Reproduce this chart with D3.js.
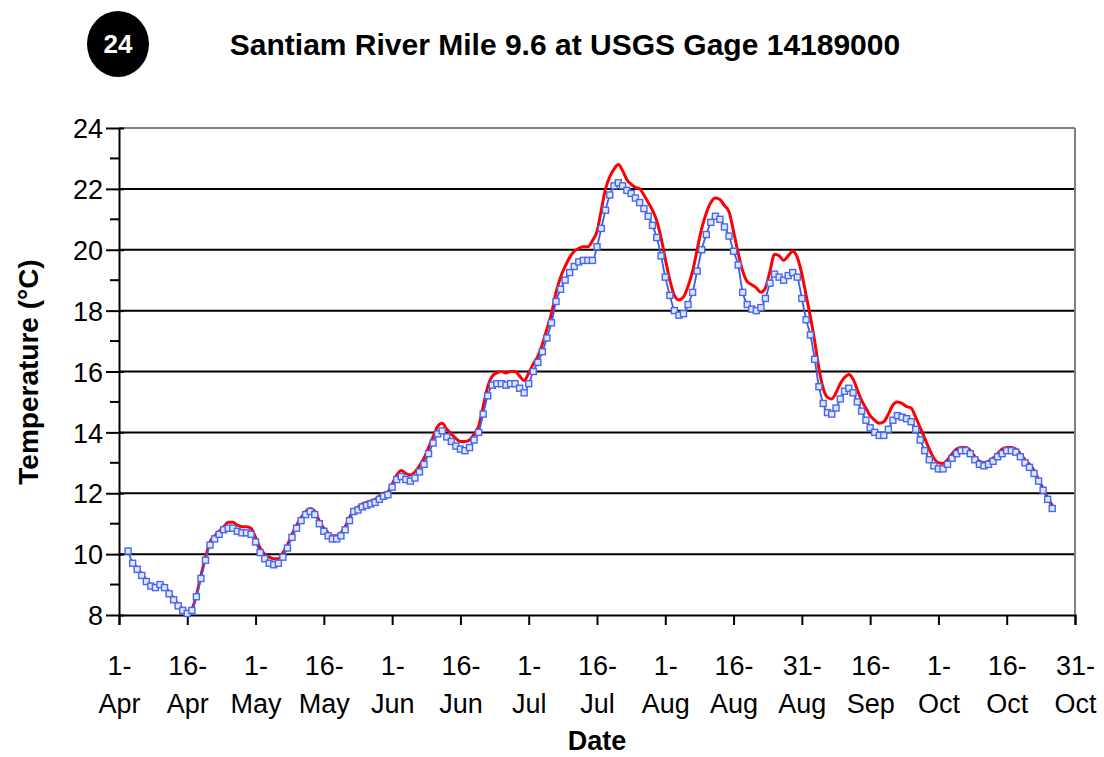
<!DOCTYPE html>
<html>
<head>
<meta charset="utf-8">
<script src="https://cdn.jsdelivr.net/npm/d3@7"></script>
<style>
  html, body { margin: 0; padding: 0; background: #ffffff; }
  svg { display: block; font-family: "Liberation Sans", Arial, sans-serif; }
</style>
</head>
<body>
<svg id="chart" width="1104" height="757"></svg>
<script>
// ---------------- DATA ----------------
const chartNumber = "24";
const chartTitle = "Santiam River Mile 9.6 at USGS Gage 14189000";
const xAxisTitle = "Date";
const yAxisTitle = "Temperature (°C)";

const tickDates = ["2001-04-01","2001-04-16","2001-05-01","2001-05-16","2001-06-01","2001-06-16",
  "2001-07-01","2001-07-16","2001-08-01","2001-08-16","2001-08-31","2001-09-16",
  "2001-10-01","2001-10-16","2001-10-31"];
const tickDayLabels = ["1-","16-","1-","16-","1-","16-","1-","16-","1-","16-","31-","16-","1-","16-","31-"];
const tickMonthLabels = ["Apr","Apr","May","May","Jun","Jun","Jul","Jul","Aug","Aug","Aug","Sep","Oct","Oct","Oct"];
const yTicks = [8, 10, 12, 14, 16, 18, 20, 22, 24];
const yMinorTicks = [9, 11, 13, 15, 17, 19, 21, 23];

// Blue series (daily, starting 3-Apr)
const blueStart = "2001-04-03";
const blueValues = [
  10.1, 9.7, 9.5, 9.3, 9.1, 8.95, 8.9, 9.0, 8.9, 8.7, 8.5, 8.3, 8.15, 8.05, 8.15, 8.6, 9.2, 9.8, 10.3,
  10.5, 10.65, 10.8, 10.85, 10.85, 10.75, 10.7, 10.7, 10.65, 10.4, 10.05, 9.85, 9.7, 9.65, 9.7, 9.9,
  10.2, 10.55, 10.85, 11.1, 11.3, 11.4, 11.3, 11.0, 10.75, 10.6, 10.5, 10.5, 10.6, 10.8, 11.1, 11.4,
  11.45, 11.55, 11.6, 11.65, 11.7, 11.8, 11.9, 11.95, 12.2, 12.45, 12.55, 12.45, 12.4, 12.5, 12.7,
  12.95, 13.3, 13.65, 13.95, 14.05, 13.85, 13.7, 13.55, 13.45, 13.4, 13.5, 13.75, 14.0, 14.6, 15.2,
  15.55, 15.6, 15.6, 15.55, 15.6, 15.6, 15.45, 15.3, 15.6, 16.0, 16.3, 16.65, 17.1, 17.6, 18.3, 18.7,
  19.0, 19.25, 19.45, 19.6, 19.65, 19.65, 19.65, 20.1, 20.7, 21.3, 21.8, 22.1, 22.2, 22.1, 21.95,
  21.85, 21.7, 21.55, 21.35, 21.1, 20.8, 20.4, 19.8, 19.1, 18.5, 18.0, 17.85, 17.9, 18.2, 18.6, 19.3,
  20.0, 20.5, 20.9, 21.1, 21.0, 20.75, 20.45, 19.95, 19.5, 18.6, 18.2, 18.05, 18.0, 18.1, 18.4, 18.9,
  19.2, 19.1, 19.0, 19.15, 19.25, 19.1, 18.4, 17.7, 17.2, 16.4, 15.5, 14.95, 14.65, 14.6, 14.8, 15.1,
  15.35, 15.45, 15.3, 15.0, 14.7, 14.4, 14.15, 14.0, 13.9, 13.9, 14.1, 14.4, 14.55, 14.5, 14.45,
  14.35, 14.1, 13.75, 13.4, 13.1, 12.9, 12.8, 12.8, 12.95, 13.15, 13.3, 13.4, 13.4, 13.3, 13.1, 12.95,
  12.9, 12.95, 13.05, 13.2, 13.3, 13.4, 13.4, 13.35, 13.2, 13.0, 12.85, 12.65, 12.4, 12.1, 11.8, 11.5
];

// Red series (daily, starting 4-Apr)
const redStart = "2001-04-04";
const redValues = [
  9.7, 9.55, 9.35, 9.15, 9.0, 8.95, 9.05, 8.95, 8.75, 8.55, 8.35, 8.2, 8.1, 8.2, 8.65, 9.3, 9.9, 10.4,
  10.6, 10.75, 10.9, 11.05, 11.05, 10.95, 10.9, 10.9, 10.85, 10.55, 10.2, 10.0, 9.9, 9.85, 9.85, 10.05,
  10.3, 10.65, 10.95, 11.2, 11.4, 11.5, 11.4, 11.1, 10.85, 10.7, 10.6, 10.6, 10.7, 10.9, 11.2, 11.45,
  11.55, 11.65, 11.7, 11.75, 11.8, 11.9, 12.0, 12.05, 12.3, 12.6, 12.75, 12.65, 12.6, 12.7, 12.9, 13.15,
  13.5, 13.85, 14.2, 14.3, 14.1, 13.95, 13.8, 13.7, 13.7, 13.75, 13.95, 14.2, 14.85, 15.5, 15.85, 15.95,
  16.0, 15.95, 16.0, 16.0, 15.85, 15.7, 15.95, 16.25, 16.5, 16.9, 17.4, 17.9, 18.6, 19.1, 19.45, 19.75,
  19.95, 20.05, 20.1, 20.1, 20.3, 20.6, 21.3, 22.0, 22.4, 22.65, 22.8, 22.6, 22.3, 22.15, 22.05, 22.0,
  21.8, 21.55, 21.3, 20.95, 20.4, 19.7, 19.0, 18.5, 18.35, 18.45, 18.8, 19.3, 20.0, 20.7, 21.2, 21.55,
  21.7, 21.65, 21.45, 21.25, 20.6, 19.9, 19.3, 18.95, 18.85, 18.75, 18.6, 18.75, 19.3, 19.85, 19.8,
  19.65, 19.8, 19.95, 19.75, 19.2, 18.5, 17.8, 17.0, 16.1, 15.45, 15.15, 15.1, 15.3, 15.6, 15.8, 15.9,
  15.75, 15.4, 15.05, 14.8, 14.55, 14.4, 14.3, 14.35, 14.6, 14.9, 15.0, 14.95, 14.85, 14.8, 14.5,
  14.15, 13.8, 13.45, 13.15, 13.0, 12.98, 13.1, 13.3, 13.45, 13.5, 13.5, 13.4, 13.2, 13.05, 13.0,
  13.05, 13.15, 13.3, 13.45, 13.5, 13.5, 13.45, 13.3, 13.1, 12.95, 12.75, 12.45, 12.15, 11.85, 11.6
];

// ---------------- CHART ----------------
const svg = d3.select("#chart");
const W = 1104, H = 757;
const m = { left: 119, right: 1075, top: 128, bottom: 615 };
const parse = d3.utcParse("%Y-%m-%d");
const tDates = tickDates.map(parse);

// Category-like date axis: each labelled interval is equally wide
const x = d3.scaleUtc()
  .domain(tDates)
  .range(tDates.map((d, i) => m.left + (m.right - m.left) * i / (tDates.length - 1)));
const y = d3.scaleLinear().domain([8, 24]).range([m.bottom, m.top]);

const toSeries = (start, vals) => {
  const s = parse(start);
  return vals.map((v, i) => ({ date: d3.utcDay.offset(s, i), value: v }));
};
const blue = toSeries(blueStart, blueValues);
const red = toSeries(redStart, redValues);

svg.append("rect").attr("width", W).attr("height", H).attr("fill", "#fff");

// Gridlines
svg.append("g").selectAll("line")
  .data(yTicks.filter(v => v > 8 && v < 24))
  .join("line")
  .attr("x1", m.left).attr("x2", m.right)
  .attr("y1", d => y(d)).attr("y2", d => y(d))
  .attr("stroke", "#000").attr("stroke-width", 2);

// Plot border top / right (grey)
svg.append("line").attr("x1", m.left).attr("x2", m.right).attr("y1", y(24)).attr("y2", y(24))
  .attr("stroke", "#808080").attr("stroke-width", 2);
svg.append("line").attr("x1", m.right).attr("x2", m.right).attr("y1", m.top).attr("y2", m.bottom)
  .attr("stroke", "#808080").attr("stroke-width", 2);

// Y axis
const yAxis = d3.axisLeft(y).tickValues(yTicks).tickSize(0).tickPadding(0).tickFormat(d3.format("d"));
const gy = svg.append("g").attr("transform", `translate(${m.left},0)`).call(yAxis);
gy.select(".domain").attr("stroke", "#000").attr("stroke-width", 2);
gy.selectAll(".tick text")
  .attr("x", -16).attr("dy", "0.36em")
  .attr("font-size", 27).attr("fill", "#000")
  .attr("font-family", "'Liberation Sans', Arial, sans-serif");
gy.selectAll(".tick").append("line")
  .attr("x1", -13).attr("x2", 5).attr("stroke", "#000").attr("stroke-width", 2);
svg.append("g").selectAll("line").data(yMinorTicks).join("line")
  .attr("x1", m.left - 9).attr("x2", m.left)
  .attr("y1", d => y(d)).attr("y2", d => y(d))
  .attr("stroke", "#000").attr("stroke-width", 2);

// X axis
const xAxis = d3.axisBottom(x).tickValues(tDates).tickSize(10).tickFormat(() => "");
const gx = svg.append("g").attr("transform", `translate(0,${m.bottom})`).call(xAxis);
gx.select(".domain").attr("stroke", "#000").attr("stroke-width", 2);
gx.selectAll(".tick line").attr("stroke", "#000").attr("stroke-width", 2);
gx.selectAll(".tick text").remove();
gx.selectAll(".tick").each(function (d, i) {
  const t = d3.select(this).append("text")
    .attr("text-anchor", "middle").attr("fill", "#000")
    .attr("font-size", 27).attr("font-family", "'Liberation Sans', Arial, sans-serif");
  t.append("tspan").attr("x", 0).attr("y", 60).text(tickDayLabels[i]);
  t.append("tspan").attr("x", 0).attr("y", 98).text(tickMonthLabels[i]);
});

// Series
const line = d3.line().x(d => x(d.date)).y(d => y(d.value)).curve(d3.curveMonotoneX);
svg.append("path").datum(red).attr("d", line)
  .attr("fill", "none").attr("stroke", "#ff0000").attr("stroke-width", 3).attr("stroke-linejoin", "round");
svg.append("path").datum(blue).attr("d", line)
  .attr("fill", "none").attr("stroke", "#3a5cf0").attr("stroke-width", 1.8);
svg.append("g").selectAll("rect").data(blue).join("rect")
  .attr("x", d => x(d.date) - 3).attr("y", d => y(d.value) - 3)
  .attr("width", 6).attr("height", 6)
  .attr("fill", "#dfe8ff").attr("stroke", "#4466f2").attr("stroke-width", 1.4);

// Titles
svg.append("ellipse").attr("cx", 118).attr("cy", 44).attr("rx", 31).attr("ry", 33).attr("fill", "#000");
svg.append("text").attr("x", 118).attr("y", 53).attr("text-anchor", "middle")
  .attr("fill", "#fff").attr("font-weight", "bold").attr("font-size", 26).text(chartNumber);
svg.append("text").attr("x", 565).attr("y", 55).attr("text-anchor", "middle")
  .attr("fill", "#000").attr("font-weight", "bold").attr("font-size", 30).text(chartTitle);
svg.append("text").attr("x", 597).attr("y", 750).attr("text-anchor", "middle")
  .attr("fill", "#000").attr("font-weight", "bold").attr("font-size", 27).text(xAxisTitle);
svg.append("text").attr("transform", "translate(38,372) rotate(-90)").attr("text-anchor", "middle")
  .attr("fill", "#000").attr("font-weight", "bold").attr("font-size", 28).text(yAxisTitle);
</script>
</body>
</html>
